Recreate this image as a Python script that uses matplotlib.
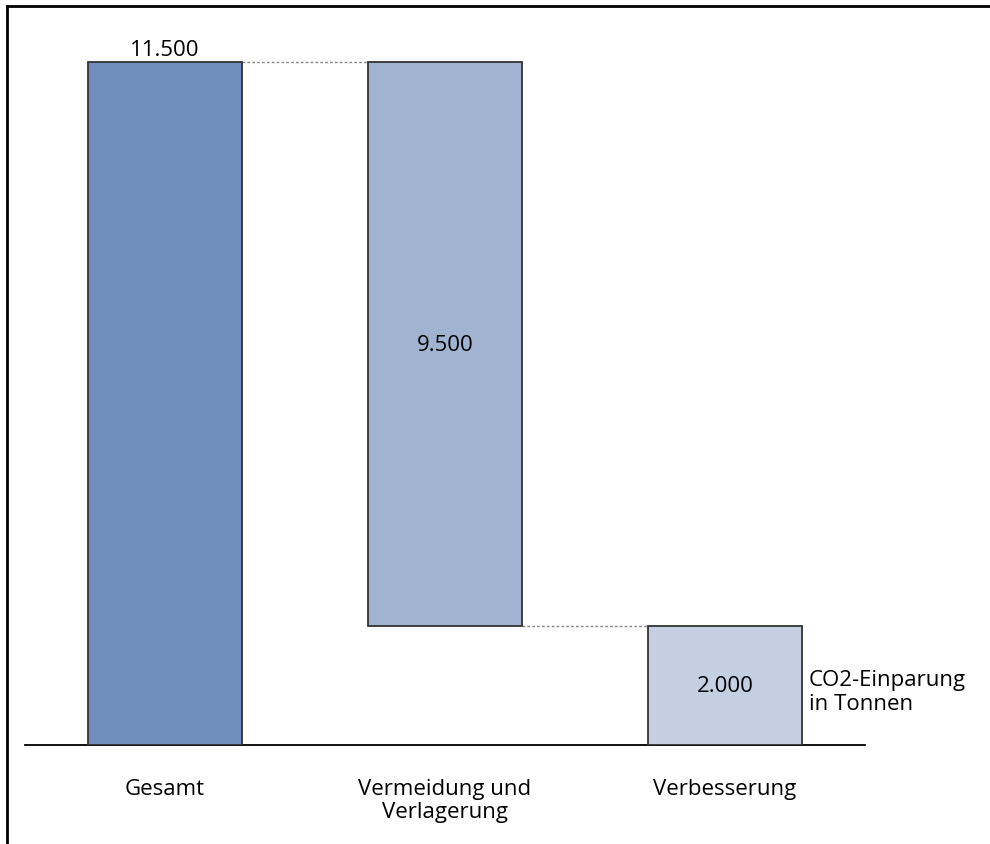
import numpy as np
import matplotlib.pyplot as plt
from matplotlib.lines import Line2D

categories = ['Gesamt', 'Vermeidung und\nVerlagerung', 'Verbesserung']
values = [11500, -9500, 2000]
bottoms = [0, 2000, 0]
heights = [11500, 9500, 2000]
value_labels = ['11.500', '9.500', '2.000']
colors = ['#6f8ebb', '#a0b3d1', '#c4cfe2']
unit_label = 'CO2-Einparung\nin Tonnen'


def main():
    plt.rcParams['font.family'] = ['Open Sans', 'DejaVu Sans']
    fs = 16
    fig = plt.figure(figsize=(9.9, 8.45), dpi=100)
    ax = fig.add_axes([25 / 990, 1 - 746 / 845, 840 / 990, (746 - 20) / 845])

    x = np.arange(len(categories))
    width = 0.55
    ax.bar(x, heights, bottom=bottoms, width=width, color=colors,
           edgecolor='#333333', linewidth=1.3, zorder=3)

    # connector lines between bars
    tops = [b + h for b, h in zip(bottoms, heights)]
    ax.plot([x[0] + width / 2, x[1] - width / 2], [tops[0], tops[0]],
            color='#888888', linestyle=(0, (2, 1.5)), linewidth=1, zorder=2)
    ax.plot([x[1] + width / 2, x[2] - width / 2], [bottoms[1], bottoms[1]],
            color='#888888', linestyle=(0, (2, 1.5)), linewidth=1, zorder=2)

    # value labels
    ax.text(x[0], tops[0] + 40, value_labels[0], ha='center', va='bottom', fontsize=fs)
    ax.text(x[1], bottoms[1] + heights[1] / 2, value_labels[1], ha='center', va='center', fontsize=fs)
    ax.text(x[2], heights[2] / 2, value_labels[2], ha='center', va='center', fontsize=fs)
    ax.text(x[2] + width / 2 + 0.025, heights[2] / 2 - 100, unit_label, ha='left', va='center',
            fontsize=fs, linespacing=1.15)

    ax.set_xlim(-0.5, 2.5)
    ax.set_ylim(0, 11500 * 726 / 683)
    for s in ['top', 'right', 'left']:
        ax.spines[s].set_visible(False)
    ax.spines['bottom'].set_linewidth(1.3)
    ax.set_yticks([])
    ax.set_xticks(x)
    ax.set_xticklabels(categories, fontsize=fs, linespacing=1.1)
    ax.tick_params(axis='x', length=0, pad=24)

    # frame around the figure (only top and left visible)
    fig.add_artist(Line2D([7 / 990, 1], [1 - 7 / 845, 1 - 7 / 845], color='black', linewidth=2))
    fig.add_artist(Line2D([7 / 990, 7 / 990], [0, 1 - 7 / 845], color='black', linewidth=2))

    plt.savefig('out.png', dpi=100)


if __name__ == "__main__":
    main()
